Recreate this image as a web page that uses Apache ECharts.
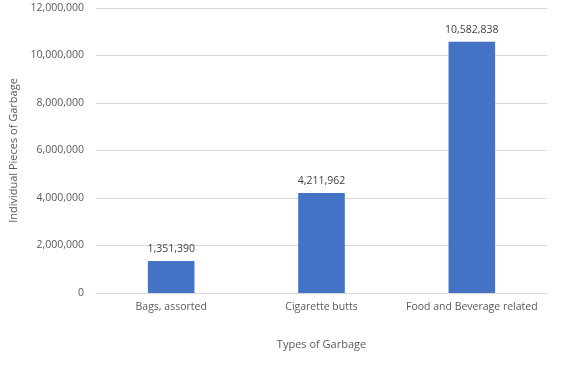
<!DOCTYPE html>
<html><head><meta charset="utf-8">
<script src="https://cdn.jsdelivr.net/npm/echarts@6/dist/echarts.min.js"></script>
<style>html,body{margin:0;padding:0;background:#fff}#c{width:561px;height:365px}</style>
</head><body><div id="c"></div>
<script>
const categories = ['Bags, assorted', 'Cigarette butts', 'Food and Beverage related'];
const values = [1351390, 4211962, 10582838];
const yTicks = [0, 2000000, 4000000, 6000000, 8000000, 10000000, 12000000];
const fmt = v => v.toLocaleString('en-US');
const font = 'Open Sans';
const chart = echarts.init(document.getElementById('c'));
chart.setOption({
  animation: false,
  textStyle: {fontFamily: font},
  grid: {left: 96, right: 14, top: 8, bottom: 72},
  xAxis: {
    type: 'category', data: categories,
    name: 'Types of Garbage', nameLocation: 'middle', nameGap: 46,
    nameTextStyle: {color: '#595959', fontSize: 11, fontFamily: font},
    axisLine: {lineStyle: {color: '#d9d9d9'}},
    axisTick: {show: false},
    axisLabel: {interval: 0, color: '#595959', fontSize: 10.5, margin: 9, fontFamily: font}
  },
  yAxis: {
    type: 'value', min: yTicks[0], max: yTicks[yTicks.length-1], interval: 2000000,
    name: 'Individual Pieces of Garbage', nameLocation: 'middle', nameGap: 67,
    nameTextStyle: {color: '#595959', fontSize: 11, fontFamily: font},
    axisLine: {show: false}, axisTick: {show: false},
    splitLine: {lineStyle: {color: '#d9d9d9'}},
    axisLabel: {color: '#595959', fontSize: 10.5, margin: 12, formatter: fmt, fontFamily: font}
  },
  series: [{
    type: 'bar', data: values, barWidth: '31%',
    itemStyle: {color: '#4472C4'},
    label: {show: true, position: 'top', distance: 6, color: '#404040', fontSize: 10.5, formatter: p => fmt(p.value), fontFamily: font}
  }]
});
</script></body></html>
